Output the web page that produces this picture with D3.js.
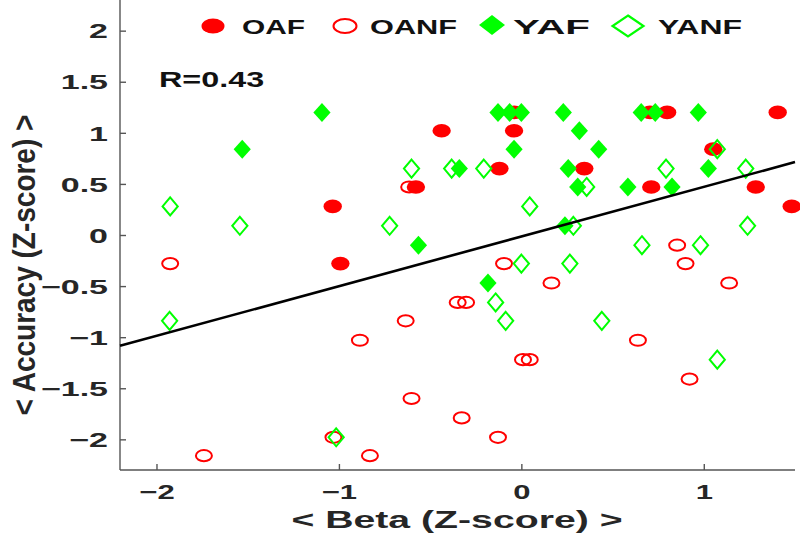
<!DOCTYPE html>
<html>
<head>
<meta charset="utf-8">
<script src="https://cdn.jsdelivr.net/npm/d3@7"></script>
<style>
  html, body { margin: 0; padding: 0; background: #fff; }
  svg { display: block; }
  text { font-family: "Liberation Sans", Arial, Helvetica, sans-serif; font-weight: bold; }
</style>
</head>
<body>
<svg id="chart" width="800" height="533"></svg>
<script>
// ---------------- data ----------------
const seriesNames = ["OAF", "OANF", "YAF", "YANF"];

// OAF: old, filled red circles  [beta, accuracy]
const oaf = [
  [-0.992, -0.28], [-1.034, 0.28], [-0.578, 0.47], [-0.437, 1.02], [-0.12, 0.65],
  [-0.04, 1.02], [-0.039, 1.2], [0.345, 0.65], [0.705, 1.2], [0.799, 1.2],
  [0.712, 0.47], [1.052, 0.84], [1.285, 0.47], [1.405, 1.2], [1.482, 0.28]
];
// OANF: old, open red circles
const oanf = [
  [-1.925, -0.28], [-0.615, 0.47], [-0.095, -0.28], [0.165, -0.47], [0.854, -0.1],
  [0.9, -0.28], [1.139, -0.47], [-0.349, -0.66], [-0.303, -0.66], [-0.634, -0.84],
  [-0.885, -1.03], [0.639, -1.03], [0.009, -1.22], [0.046, -1.22], [0.922, -1.41],
  [-0.602, -1.6], [-0.327, -1.79], [-1.03, -1.98], [-0.128, -1.98], [-1.74, -2.16],
  [-0.83, -2.16]
];
// YAF: young, filled green diamonds
const yaf = [
  [-1.093, 1.2], [-1.53, 0.84], [-0.564, -0.1], [-0.34, 0.65], [-0.183, -0.47],
  [-0.128, 1.2], [-0.064, 1.2], [0.0, 1.2], [0.23, 1.2], [0.318, 1.02],
  [-0.04, 0.84], [0.424, 0.84], [0.257, 0.65], [0.309, 0.47], [0.239, 0.09],
  [0.584, 0.47], [0.826, 0.47], [0.657, 1.2], [0.734, 1.2], [0.97, 1.2],
  [1.025, 0.65]
];
// YANF: young, open green diamonds
const yanf = [
  [-1.925, 0.28], [-1.543, 0.09], [-1.928, -0.84], [-1.015, -1.98], [-0.722, 0.09],
  [-0.602, 0.65], [-0.382, 0.65], [-0.206, 0.65], [0.0, -0.28], [-0.141, -0.66],
  [-0.086, -0.84], [0.046, 0.28], [0.358, 0.47], [0.285, 0.09], [0.266, -0.28],
  [0.441, -0.84], [0.661, -0.1], [0.793, 0.65], [0.982, -0.1], [1.074, 0.84],
  [1.23, 0.65], [1.24, 0.09], [1.074, -1.22]
];

const xTicks = [-2, -1, 0, 1];
const yTicks = [-2, -1.5, -1, -0.5, 0, 0.5, 1, 1.5, 2];
const xDomain = [-2.2, 1.5];
const yDomain = [-2.3, 2.3];

// regression line
const fitSlope = 0.486;
const fitIntercept = -0.015;
const rLabel = "R=0.43";
const xLabel = "< Beta (Z-score) >";
const yLabel = "< Accuracy (Z-score) >";

// ---------------- drawing ----------------
const RED = "#ff0000", GREEN = "#00ff00", AX = "#262626";
const svg = d3.select("#chart");
const x = d3.scaleLinear().domain(xDomain).range([120, 795]);
const y = d3.scaleLinear().domain(yDomain).range([470, 0]);

function stretchText(sel, factor, anchor, ax) {
  sel.each(function () {
    const L = this.getComputedTextLength();
    const W = L * factor;
    const t = d3.select(this).attr("text-anchor", "start")
      .attr("textLength", W).attr("lengthAdjust", "spacingAndGlyphs");
    if (anchor === "middle") t.attr("x", ax - W / 2);
    else if (anchor === "end") t.attr("x", ax - W);
    else t.attr("x", ax);
  });
}

// axes
const gx = svg.append("g").attr("transform", "translate(0,470)")
  .call(d3.axisBottom(x).tickValues(xTicks).tickSize(-6).tickFormat(d3.format("d")).tickSizeOuter(0));
const gy = svg.append("g").attr("transform", "translate(120,0)")
  .call(d3.axisLeft(y).tickValues(yTicks).tickSize(-6).tickFormat(d => d3.format("")(d)).tickSizeOuter(0));
[gx, gy].forEach(g => {
  g.select(".domain").attr("stroke", "#555").attr("stroke-width", 1.4);
  g.selectAll(".tick line").attr("stroke", "#555").attr("stroke-width", 1.4);
  g.selectAll(".tick text").attr("fill", AX).style("font-size", "20px").style("font-weight", "bold")
    .style("font-family", '"Liberation Sans", Arial, sans-serif');
});
gx.selectAll(".tick text").attr("dy", null).attr("y", 29)
  .each(function () { stretchText(d3.select(this), 1.55, "middle", 0); });
gy.selectAll(".tick text").attr("dy", "0.36em")
  .each(function () { stretchText(d3.select(this), 1.7, "end", -12); });
gy.select(".domain").attr("d", `M0,${y(yDomain[0])}V${y(yDomain[1])}`);
gx.select(".domain").attr("d", `M${x(xDomain[0])},0H${x(xDomain[1])}`);

// markers
const diamond = (hw, hh) => `M0,${-hh}L${hw},0L0,${hh}L${-hw},0Z`;
const plot = svg.append("g");

plot.selectAll(".oanf").data(oanf).join("ellipse")
  .attr("cx", d => x(d[0])).attr("cy", d => y(d[1]))
  .attr("rx", 8).attr("ry", 5.6).attr("fill", "none").attr("stroke", RED).attr("stroke-width", 2);
plot.selectAll(".oaf").data(oaf).join("ellipse")
  .attr("cx", d => x(d[0])).attr("cy", d => y(d[1]))
  .attr("rx", 9.2).attr("ry", 6.8).attr("fill", RED);
plot.selectAll(".yanf").data(yanf).join("path")
  .attr("transform", d => `translate(${x(d[0])},${y(d[1])})`)
  .attr("d", diamond(7.6, 9)).attr("fill", "none").attr("stroke", GREEN).attr("stroke-width", 2);
plot.selectAll(".yaf").data(yaf).join("path")
  .attr("transform", d => `translate(${x(d[0])},${y(d[1])})`)
  .attr("d", diamond(8.6, 9.5)).attr("fill", GREEN);

// regression line
svg.append("line")
  .attr("x1", x(xDomain[0])).attr("y1", y(fitIntercept + fitSlope * xDomain[0]))
  .attr("x2", x(xDomain[1])).attr("y2", y(fitIntercept + fitSlope * xDomain[1]))
  .attr("stroke", "#000").attr("stroke-width", 2.6);

// R text
svg.append("text").text(rLabel).attr("y", 87).style("font-size", "22px").attr("fill", "#111")
  .call(s => stretchText(s, 1.47, "start", 159));

// legend
const legendX = [213, 345, 492, 628];
const legendTX = [242, 370, 513, 658];
const legendTW = [63, 87, 77, 84];
const lg = svg.append("g");
lg.append("ellipse").attr("cx", legendX[0]).attr("cy", 26).attr("rx", 11.5).attr("ry", 7.6).attr("fill", RED);
lg.append("ellipse").attr("cx", legendX[1]).attr("cy", 26).attr("rx", 11.5).attr("ry", 7).attr("fill", "none").attr("stroke", RED).attr("stroke-width", 2);
lg.append("path").attr("transform", `translate(${legendX[2]},25)`).attr("d", diamond(13, 10)).attr("fill", GREEN);
lg.append("path").attr("transform", `translate(${legendX[3]},26)`).attr("d", diamond(15.5, 10.5)).attr("fill", "none").attr("stroke", GREEN).attr("stroke-width", 2.2);
seriesNames.forEach((n, i) => {
  const t = lg.append("text").text(n).attr("x", legendTX[i]).attr("y", 33.5)
    .style("font-size", "21px").attr("fill", "#111");
  t.attr("textLength", legendTW[i]).attr("lengthAdjust", "spacingAndGlyphs");
});

// axis labels
svg.append("text").text(xLabel).attr("y", 527.5).style("font-size", "24.5px").attr("fill", AX)
  .call(s => stretchText(s, 1.6, "middle", 457));
svg.append("text").text(yLabel).attr("text-anchor", "middle")
  .attr("transform", "translate(35,265) rotate(-90) scale(1,1.1)")
  .style("font-size", "28px").attr("fill", AX);
</script>
</body>
</html>
